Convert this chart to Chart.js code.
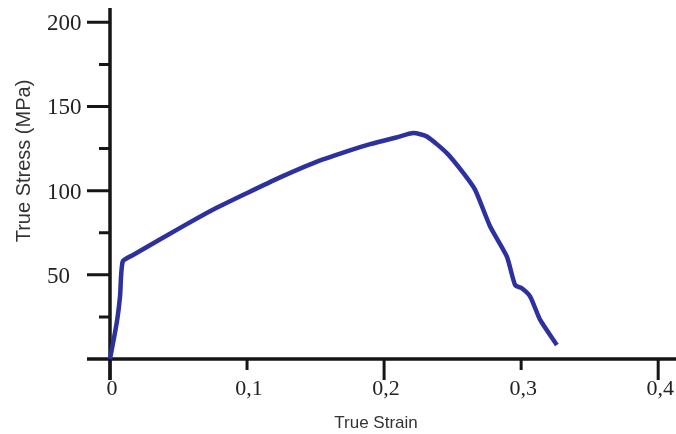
<!DOCTYPE html>
<html>
<head>
<meta charset="utf-8">
<script src="https://cdn.jsdelivr.net/npm/chart.js@4"></script>
<style>
  html, body { margin: 0; padding: 0; background: #fff; }
  #wrap { width: 676px; height: 434px; }
</style>
</head>
<body>
<div id="wrap"><canvas id="stressChart" width="676" height="434"></canvas></div>
<script>
// values
const strain = [0, 0.0049, 0.0073, 0.0093, 0.0168, 0.0547, 0.0754, 0.0998, 0.1241, 0.1484, 0.1728, 0.1898, 0.2088, 0.2214, 0.2312, 0.2458, 0.2579, 0.2664, 0.2774, 0.2896, 0.2956, 0.3005, 0.3066, 0.3139, 0.3261];
const stress = [0, 21.4, 37.1, 57.9, 61.8, 79.5, 88.8, 98.5, 107.9, 116.4, 123.3, 127.6, 131.6, 134.2, 132.2, 122.3, 110.4, 100.5, 78.7, 60.8, 44.0, 42.0, 37.1, 23.2, 8.3];

const yTicks = [50, 100, 150, 200];
const yMinorTicks = [25, 75, 125, 175];
const xTicks = [0, 0.1, 0.2, 0.3, 0.4];
const xTickLabels = ['0', '0,1', '0,2', '0,3', '0,4'];
const xMajor = [0, 0.2, 0.4];

const axisColor = '#161616';

// hand-drawn looking axes, positioned through the chart's own scales
const axesPlugin = {
  id: 'axesPlugin',
  beforeDatasetsDraw(chart) {
    const ctx = chart.ctx;
    const xs = chart.scales.x, ys = chart.scales.y;
    const x0 = xs.getPixelForValue(0);
    const y0 = ys.getPixelForValue(0);
    ctx.save();
    ctx.strokeStyle = axisColor;
    ctx.lineWidth = 3.5;
    ctx.lineCap = 'butt';
    ctx.beginPath();
    ctx.moveTo(x0, chart.chartArea.top);
    ctx.lineTo(x0, y0 + 21);
    ctx.moveTo(x0 - 23, y0);
    ctx.lineTo(chart.width, y0);
    ctx.stroke();

    ctx.lineWidth = 3;
    ctx.beginPath();
    yTicks.forEach(v => {
      const p = ys.getPixelForValue(v);
      ctx.moveTo(x0 - 23, p); ctx.lineTo(x0, p);
    });
    yMinorTicks.forEach(v => {
      const p = ys.getPixelForValue(v);
      ctx.moveTo(x0 - 11, p); ctx.lineTo(x0, p);
    });
    xTicks.forEach(v => {
      const p = xs.getPixelForValue(v);
      const len = xMajor.includes(v) ? 21 : 11;
      ctx.moveTo(p, y0); ctx.lineTo(p, y0 + len);
    });
    ctx.stroke();

    // tick labels
    ctx.fillStyle = '#222';
    ctx.font = '23px "Liberation Serif", "Times New Roman", serif';
    ctx.textAlign = 'left';
    ctx.textBaseline = 'alphabetic';
    yTicks.forEach(v => {
      ctx.fillText(String(v), 47, ys.getPixelForValue(v) + 8);
    });
    ctx.font = '22px "Liberation Serif", "Times New Roman", serif';
    ctx.textAlign = 'center';
    xTicks.forEach((v, i) => {
      ctx.fillText(xTickLabels[i], xs.getPixelForValue(v) + 2, 395);
    });

    // axis titles
    ctx.fillStyle = '#333';
    ctx.font = '17px "Liberation Sans", Arial, sans-serif';
    ctx.textAlign = 'center';
    ctx.textBaseline = 'middle';
    ctx.fillText('True Strain', 376, 423);
    ctx.save();
    ctx.translate(24, 161);
    ctx.rotate(-Math.PI / 2);
    ctx.font = '20px "Liberation Sans", Arial, sans-serif';
    ctx.fillText('True Stress (MPa)', 0, 0);
    ctx.restore();
    ctx.restore();
  }
};

const ctx = document.getElementById('stressChart').getContext('2d');
new Chart(ctx, {
  type: 'line',
  data: {
    datasets: [{
      data: strain.map((x, i) => ({ x, y: stress[i] })),
      borderColor: '#2d31a0',
      borderWidth: 4.5,
      pointRadius: 0,
      tension: 0.2,
      fill: false,
      clip: false
    }]
  },
  options: {
    responsive: false,
    animation: false,
    layout: { padding: { left: 110, right: 0, top: 8, bottom: 75 } },
    plugins: { legend: { display: false }, tooltip: { enabled: false } },
    scales: {
      x: { type: 'linear', min: 0, max: 0.413, display: false },
      y: { type: 'linear', min: 0, max: 208.5, display: false }
    }
  },
  plugins: [axesPlugin]
});
</script>
</body>
</html>
